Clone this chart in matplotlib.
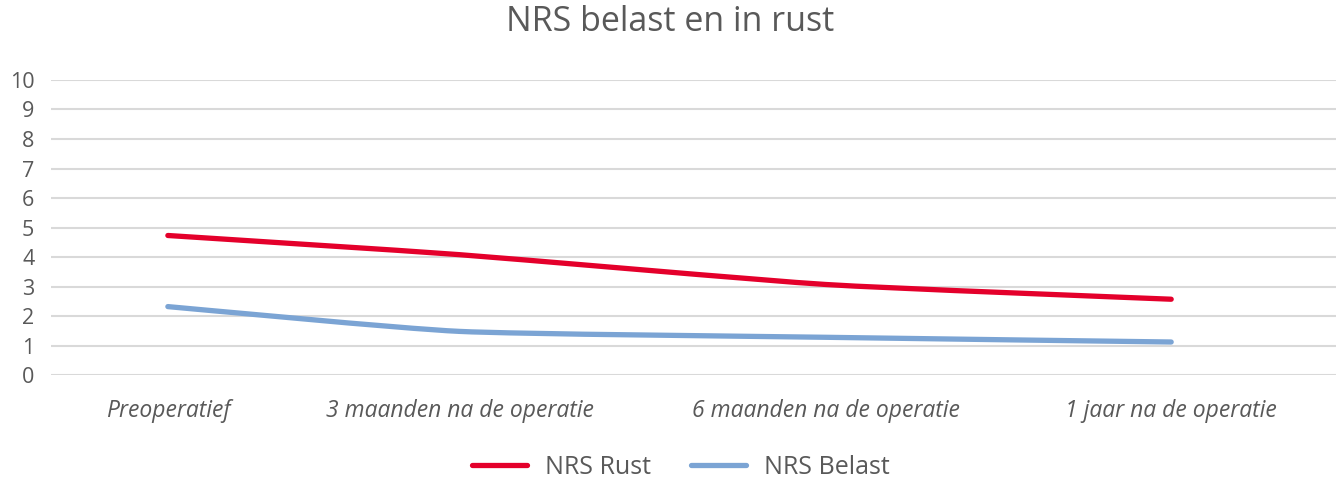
import matplotlib
matplotlib.use("Agg")
import matplotlib.pyplot as plt
from matplotlib.path import Path
from matplotlib.patches import PathPatch
from matplotlib.lines import Line2D
import numpy as np

categories = ["Preoperatief", "3 maanden na de operatie", "6 maanden na de operatie", "1 jaar na de operatie"]
x_pos = [0.091, 0.318, 0.603, 0.872]
nrs_rust = [4.73, 4.08, 3.07, 2.57]
nrs_belast = [2.32, 1.48, 1.28, 1.12]
series_names = ["NRS Rust", "NRS Belast"]
colors = ["#E4002B", "#7BA4D4"]

plt.rcParams['font.family'] = ['Open Sans', 'DejaVu Sans']
text_color = "#595959"

fig = plt.figure(figsize=(13.41, 4.79), dpi=100)
ax = fig.add_axes([0.038, 0.217, 0.958, 0.616])
ax.set_xlim(0, 1)
ax.set_ylim(0, 10)
ax.set_yticks(range(0, 11))
ax.yaxis.grid(True, color="#d9d9d9", linewidth=1.5)
ax.set_axisbelow(True)
for s in ax.spines.values():
    s.set_visible(False)
ax.tick_params(axis='y', length=0, labelsize=15.5, labelcolor=text_color, pad=12)
ax.set_xticks(x_pos)
ax.set_xticklabels(categories, fontsize=16.5, style='italic', color=text_color)
ax.tick_params(axis='x', length=0, pad=17)


def smooth_path(xs, ys, ax):
    # Excel-like smoothed Bezier through data points, computed in display space
    pts = ax.transData.transform(np.column_stack([xs, ys]))
    verts = [pts[0]]
    codes = [Path.MOVETO]
    n = len(pts)
    t = 0.09
    for i in range(n - 1):
        p0 = pts[i - 1] if i > 0 else pts[i]
        p1 = pts[i]
        p2 = pts[i + 1]
        p3 = pts[i + 2] if i + 2 < n else pts[i + 1]
        c1 = p1 + (p2 - p0) * t
        c2 = p2 - (p3 - p1) * t
        verts += [c1, c2, p2]
        codes += [Path.CURVE4] * 3
    return Path(verts, codes)


for ys, c in zip([nrs_rust, nrs_belast], colors):
    p = smooth_path(x_pos, ys, ax)
    patch = PathPatch(p, facecolor='none', edgecolor=c, linewidth=3.8,
                      capstyle='round', joinstyle='round', transform=None)
    ax.add_artist(patch)

fig.suptitle("NRS belast en in rust", fontsize=24.5, color=text_color, y=0.99)

handles = [Line2D([0], [0], color=c, linewidth=3.8, solid_capstyle='round') for c in colors]
fig.legend(handles, series_names, loc='center', bbox_to_anchor=(0.508, 0.025),
           ncol=2, frameon=False, fontsize=18, labelcolor=text_color,
           handlelength=2.2, columnspacing=1.6, handletextpad=0.72)

fig.savefig("out.png", dpi=100)
